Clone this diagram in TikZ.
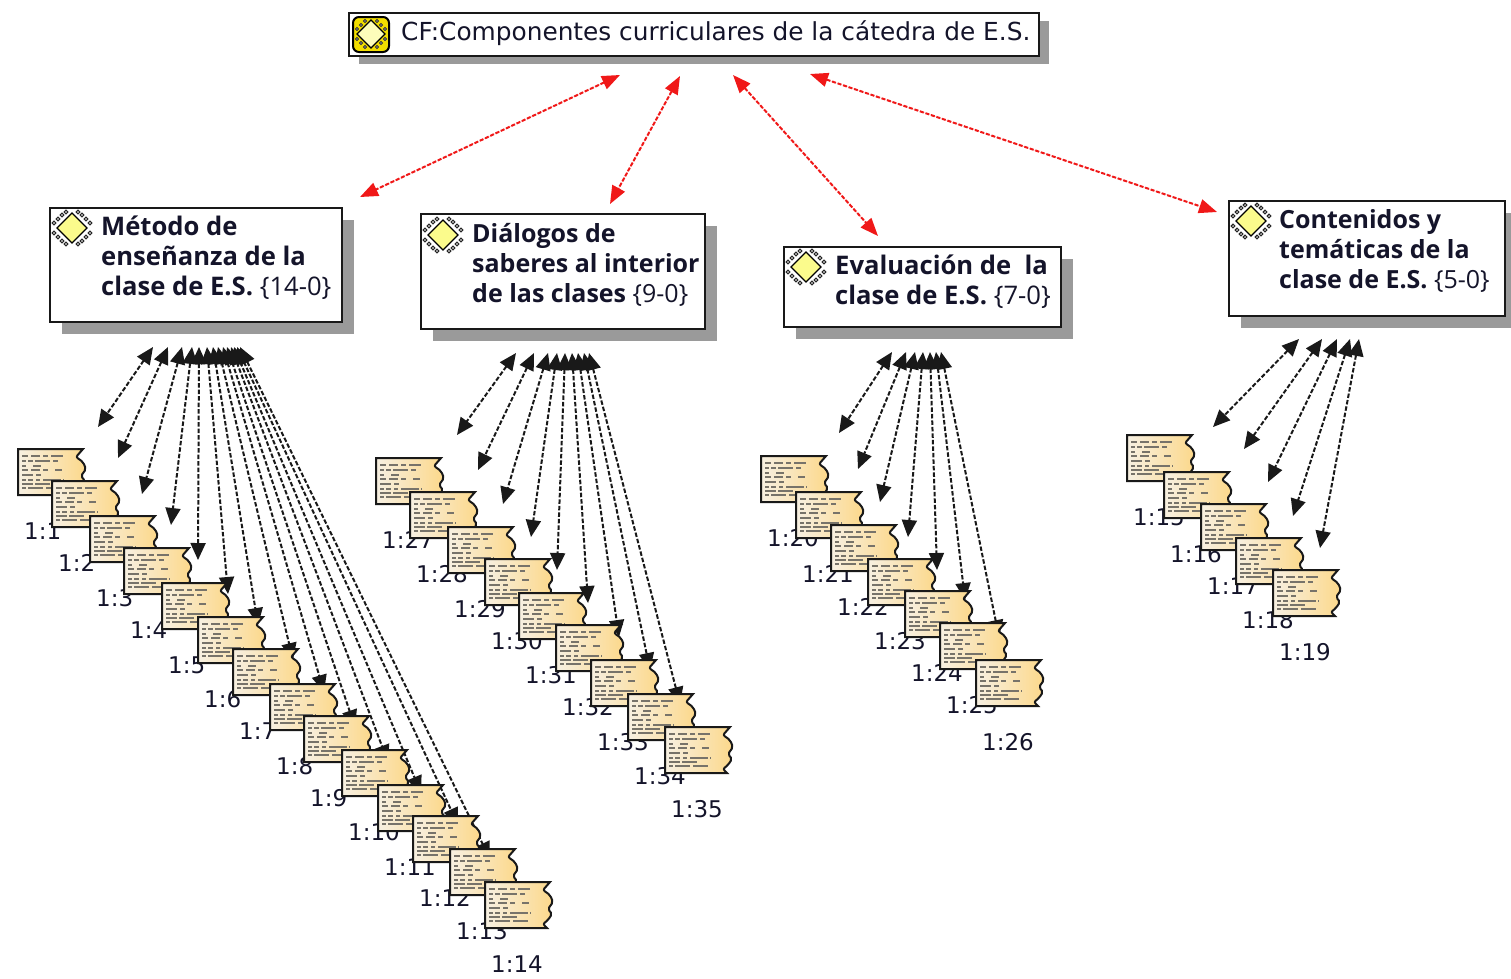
\documentclass[tikz,border=0pt]{standalone}
\usepackage{fontspec}
\setmainfont{DejaVu Sans}
\newfontfamily\boxfont{Open Sans}
\usetikzlibrary{arrows.meta,shadows}
\definecolor{shadowgray}{HTML}{9A9A9A}
\definecolor{docL}{HTML}{F7F0E2}
\definecolor{docR}{HTML}{FCD88A}
\definecolor{txt}{HTML}{14142A}
\definecolor{dashgray}{HTML}{77736A}
\definecolor{redline}{HTML}{F01818}
\definecolor{iconY}{HTML}{F2DE00}
\definecolor{iconP}{HTML}{FBFB8C}
\tikzset{
 boxbase/.style={draw=black!90,line width=2pt,fill=white,anchor=north west,inner sep=0pt,outer sep=0pt},
 codebox/.style={boxbase,drop shadow={shadow xshift=12pt,shadow yshift=-12pt,fill=shadowgray,opacity=1}},
 titlebox/.style={boxbase,drop shadow={shadow xshift=10pt,shadow yshift=-8pt,fill=shadowgray,opacity=1}},
 boxtext/.style={anchor=west,align=left,inner sep=0pt,text=txt,font=\boxfont\bfseries\fontsize{25.6}{30}\selectfont},
 boxtextsmall/.style={boxtext,font=\boxfont\bfseries\fontsize{25}{30}\selectfont},
 lbl/.style={anchor=west,inner sep=0pt,text=txt,font=\fontsize{23}{26}\selectfont},
 blackarrow/.style={<->,>={Triangle[length=17pt,width=15pt]},draw=black!90,line width=2pt,dash pattern=on 4.5pt off 2pt},
 redarrow/.style={<->,>={Triangle[length=18pt,width=14pt]},draw=redline,fill=redline,line width=2pt,dash pattern=on 4pt off 1.8pt},
 docicon/.pic={
  \path[draw=black!90,line width=2pt,left color=docL,right color=docR]
   (0,0) -- (65,0) [rounded corners=2pt] -- (58,8) -- (65,13) -- (68,20) -- (63,27) -- (67,32) -- (63,38) -- (58,42) [sharp corners] -- (62,46) -- (0,46) -- cycle;
  \draw[dashgray,line width=1.3pt]
   (4,7)--(10,7) (13,7)--(22,7) (25,7)--(30,7) (33,7)--(45,7)
   (4,12)--(8,12) (10,12)--(15,12) (17,12)--(32,12) (35,12)--(40,12)
   (4,17)--(8,17) (15,17)--(23,17)
   (4,21)--(10,21) (13,21)--(22,21) (25,21)--(30,21) (37,21)--(44,21)
   (4,26)--(15,26) (18,26)--(23,26)
   (4,31)--(8,31) (10,31)--(15,31) (18,31)--(22,31) (25,31)--(43,31) (45,31)--(46,31)
   (4,35)--(15,35) (17,35)--(32,35)
   (4,39)--(8,39) (10,39)--(25,39) (28,39)--(43,39);
 },
 codeicon/.pic={
  \foreach \a/\b in {-18/-5,-14/-9,-10/-13,-6/-16,18/-5,14/-9,10/-13,6/-16,-18/5,-14/9,-10/13,-6/16,18/5,14/9,10/13,6/16}
   \draw[black!85,line width=1.1pt,fill=white] (\a,\b) circle (1.8);
  \draw[black,line width=1.3pt,fill=iconP] (0,-15) -- (15,0) -- (0,15) -- (-15,0) -- cycle;
 },
 familyicon/.pic={
  \draw[black,line width=2pt,fill=iconY,rounded corners=6pt] (-18,-17) rectangle (18,18);
  \foreach \a/\b in {-14/-5,-10/-9,-6/-13,14/-5,10/-9,6/-13,-14/5,-10/9,-6/13,14/5,10/9,6/13}
   \draw[black!85,line width=.9pt,fill=white] (\a,\b) circle (1.6);
  \draw[black,line width=1.3pt,fill=iconP!60!white] (0,-14) -- (14,0) -- (0,14) -- (-14,0) -- cycle;
 }
}
\begin{document}
\begin{tikzpicture}[x=1pt,y=-1pt]
\clip (0,0) rectangle (1511,978);
\fill[white] (0,0) rectangle (1511,978);

% boxes
\node[titlebox,minimum width=690pt,minimum height=43pt] (cf) at (349,13) {};
\node[codebox,minimum width=292pt,minimum height=114pt] (metodo) at (50,208) {};
\node[codebox,minimum width=284pt,minimum height=115pt] (dialogos) at (421,214) {};
\node[codebox,minimum width=277pt,minimum height=80pt] (evaluacion) at (784,247) {};
\node[codebox,minimum width=276pt,minimum height=115pt] (contenidos) at (1229,201) {};

\pic (icf) at (371,34) {familyicon};
\pic (im) at (72,228) {codeicon};
\pic (id) at (443,235) {codeicon};
\pic (ie) at (806,267) {codeicon};
\pic (ic) at (1251,221) {codeicon};

\node[anchor=west,inner sep=0pt,text=txt,font=\fontsize{24.8}{28}\selectfont] (tcf) at (401,33) {CF:Componentes curriculares de la cátedra de E.S.};
\node[boxtext] (tm) at (101,258) {Método de\\enseñanza de la\\clase de E.S. {\mdseries\{14-0\}}};
\node[boxtextsmall] (td) at (472,265) {Diálogos de\\saberes al interior\\de las clases {\mdseries\{9-0\}}};
\node[boxtext] (te) at (835,282) {Evaluación de\ \ la\\clase de E.S. {\mdseries\{7-0\}}};
\node[boxtextsmall] (tc) at (1279,251) {Contenidos y\\temáticas de la\\clase de E.S. {\mdseries\{5-0\}}};

% red connectors
\foreach \k/\a/\b/\c/\d in {1/620/75/360/197,2/680/76/610/204,3/733/75/878/236,4/810/74/1217/212}{
 \coordinate (rs\k) at (\a,\b);
 \coordinate (re\k) at (\c,\d);
 \draw[redarrow] (rs\k) -- (re\k);
}

% black connectors
\foreach \k/\a/\b/\c/\d in {
 a1/153/347/98/427,a2/168/347/118/458,a3/182/347/142/494,a4/192/347/171/525,a5/199/347/198/560,
 a6/207/347/228/594,a7/213/347/258/625,a8/218/347/293/660,a9/223/347/324/692,a10/227/347/355/727,
 a11/231/347/388/762,a12/234/347/421/793,a13/237/347/458/825,a14/240/347/490/859,
 b1/516/353/457/435,b2/534/353/478/470,b3/548/353/503/504,b4/557/353/531/537,b5/565/353/557/570,
 b6/572/353/588/603,b7/578/353/619/637,b8/584/353/650/670,b9/589/353/680/704,
 c1/892/352/839/433,c2/906/352/858/469,c3/915/352/880/502,c4/923/352/908/537,c5/930/352/937/570,
 c6/936/352/965/600,c7/941/352/999/637,
 d1/1299/339/1213/427,d2/1322/339/1244/449,d3/1337/339/1268/482,d4/1350/339/1293/516,d5/1359/339/1320/548}{
 \coordinate (s\k) at (\a,\b);
 \coordinate (e\k) at (\c,\d);
 \draw[blackarrow] (s\k) -- (e\k);
}

% quotations
\foreach \n/\x/\y in {1/18/449,2/52/481,3/90/516,4/124/548,5/162/583,6/198/617,7/233/649,8/270/684,9/304/716,10/342/750,11/378/785,12/413/816,13/450/849,14/485/882,
 27/376/458,28/410/492,29/448/527,30/485/559,31/519/593,32/556/625,33/591/660,34/628/694,35/665/727,
 20/761/456,21/796/492,22/831/525,23/868/559,24/905/591,25/940/623,26/976/660,
 15/1127/435,16/1164/472,17/1201/504,18/1236/538,19/1273/570}{
 \node[lbl] (l\n) at (\x+6,\y+82) {1:\n};
 \pic (q\n) at (\x,\y) {docicon};
}
\end{tikzpicture}
\end{document}
